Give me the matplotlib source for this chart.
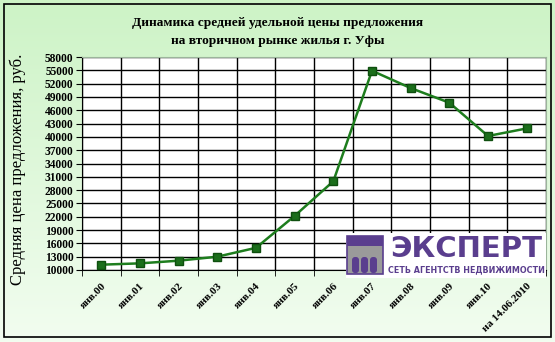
import matplotlib
matplotlib.use("Agg")
import matplotlib.pyplot as plt
import numpy as np
from matplotlib.patches import Rectangle, FancyBboxPatch
from matplotlib.colors import LinearSegmentedColormap

categories = ["янв.00", "янв.01", "янв.02", "янв.03", "янв.04", "янв.05", "янв.06",
              "янв.07", "янв.08", "янв.09", "янв.10", "на 14.06.2010"]
prices = [11200, 11500, 12100, 13000, 15000, 22200, 30000,
          54900, 51000, 47700, 40200, 41900]
yticks = list(range(10000, 58001, 3000))
title = "Динамика средней удельной цены предложения\nна вторичном рынке жилья г. Уфы"
ylabel = "Средняя цена предложения, руб."

serif = ["Liberation Serif", "DejaVu Serif"]

fig = plt.figure(figsize=(5.55, 3.42), dpi=100)

# background gradient
bg = fig.add_axes([0, 0, 1, 1], zorder=-10)
grad = np.linspace(0, 1, 256).reshape(-1, 1)
cmap = LinearSegmentedColormap.from_list("g", ["#f2fdf0", "#cdf3c6"])
bg.imshow(grad, aspect="auto", cmap=cmap, origin="lower", extent=[0, 1, 0, 1])
bg.set_xlim(0, 1); bg.set_ylim(0, 1)
bg.axis("off")
bg.add_patch(Rectangle((4/555, 1-337/342), 547/555, 333/342, fill=False,
                       edgecolor="black", linewidth=1.2, transform=bg.transAxes))

ax = fig.add_axes([82/555, 1-270/342, 464/555, 213/342])
ax.set_facecolor("white")
x = np.arange(len(categories))
ax.plot(x, prices, color="#1e7d1e", linewidth=1.8, marker="s", markersize=6,
        markerfacecolor="#1b6e1b", markeredgecolor="#0f4f0f", zorder=5)

ax.set_xlim(-0.5, len(categories) - 0.5)
ax.set_ylim(10000, 58000)
ax.set_yticks(yticks)
ax.set_yticklabels([str(v) for v in yticks], fontfamily=serif, fontweight="bold", fontsize=8.3)
ax.set_xticks(x)
ax.set_xticklabels(categories, rotation=45, ha="right", rotation_mode="anchor",
                   fontfamily=serif, fontsize=8, fontweight="bold")
ax.tick_params(axis="x", length=0, pad=8)
ax.set_xticks(np.arange(-0.5, len(categories)), minor=True)
ax.tick_params(axis="x", which="minor", length=4, color="black")
ax.tick_params(axis="y", length=4, color="black", pad=2)
ax.grid(True, axis="y", which="major", color="black", linewidth=1)
ax.grid(True, axis="x", which="minor", color="black", linewidth=1)
ax.set_axisbelow(True)
for s in ["top", "right"]:
    ax.spines[s].set_color("#9bb59b")
ax.spines["left"].set_color("black")
ax.spines["bottom"].set_color("black")

fig.text(0.5, 1-32/342, title, ha="center", va="center", fontfamily=serif,
         fontweight="bold", fontsize=9.6, linespacing=1.7)
fig.text(18/555, 1-169/342, ylabel, rotation=90, ha="center", va="center",
         fontfamily=serif, fontsize=12)

# logo
purple = "#5a3e8e"
logo = fig.add_axes([346/555, 1-278/342, 200/555, 45/342], zorder=10)
logo.set_xlim(0, 200); logo.set_ylim(0, 45)
logo.axis("off")
logo.add_patch(Rectangle((0, 0), 200, 45, facecolor="white", edgecolor="none"))
logo.add_patch(Rectangle((1, 4), 36, 38, facecolor="#9a9a9a", edgecolor=purple, linewidth=1.2))
logo.add_patch(Rectangle((1, 32), 36, 10, facecolor=purple, edgecolor="none"))
for ax0 in (6, 15, 24):
    logo.add_patch(FancyBboxPatch((ax0, 5), 7, 16, boxstyle="round,pad=0,rounding_size=3",
                                  facecolor=purple, edgecolor="none"))
logo.text(120, 29, "ЭКСПЕРТ", ha="center", va="center", color=purple,
          fontsize=21, fontweight="heavy", family=["DejaVu Sans"])
logo.text(120, 8, "СЕТЬ АГЕНТСТВ НЕДВИЖИМОСТИ", ha="center", va="center",
          color=purple, fontsize=5.8, fontweight="bold", family=["DejaVu Sans"])

fig.savefig("out.png", dpi=100)
